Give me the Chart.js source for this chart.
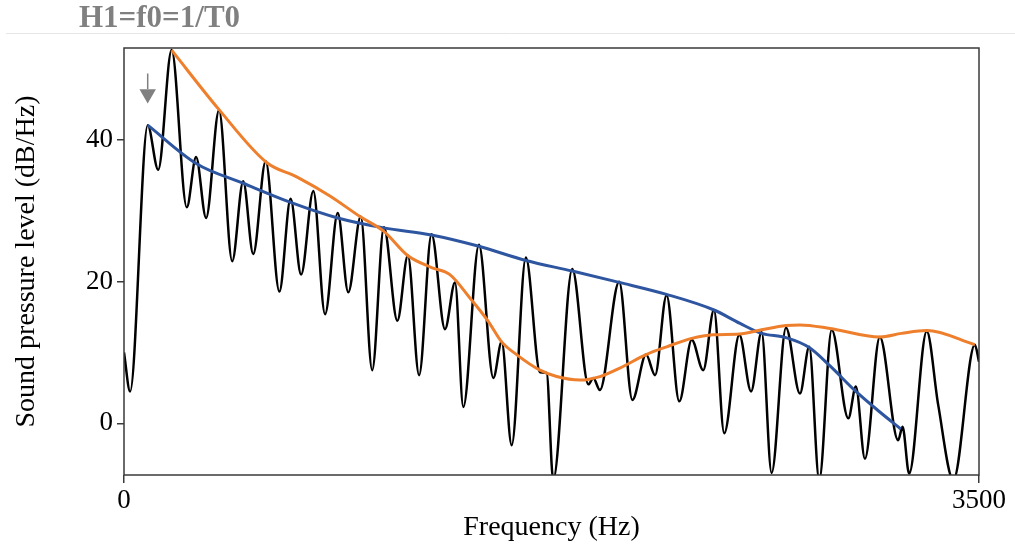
<!DOCTYPE html>
<html><head><meta charset="utf-8">
<script src="https://cdn.jsdelivr.net/npm/chart.js@4.4.1/dist/chart.umd.min.js"></script>
<style>html,body{margin:0;padding:0;background:#fff;}#wrap{width:1015px;height:554px;position:relative}</style>
</head><body><div id="wrap"><canvas id="c" width="1015" height="554"></canvas></div>
<script>
const titleText = 'H1=f0=1/T0';
const xTitle = 'Frequency (Hz)';
const yTitle = 'Sound pressure level (dB/Hz)';
const xTickValues = [0, 3500];
const yTickValues = [0, 20, 40];

const spectrumHz = [0,25,97,140,195,257,295,336,389,443,488,529,580,636,682,725,775,823,875,918,969,1016,1064,1119,1162,1208,1259,1314,1355,1389,1453,1512,1546,1587,1645,1703,1730,1757,1835,1901,1921,1948,2027,2081,2137,2174,2221,2273,2324,2371,2415,2457,2519,2567,2610,2651,2710,2767,2805,2846,2897,2965,2996,3033,3094,3169,3187,3214,3286,3333,3395,3483,3500];
const spectrumDb = [10.0,4.5,42.1,35.8,52.7,30.5,37.6,29.0,44.2,22.9,34.2,23.9,37.0,18.6,31.7,21.0,32.8,15.4,29.7,18.5,29.2,7.5,27.7,14.5,23.7,6.8,26.7,13.3,19.9,2.3,25.2,6.4,11.5,-3.1,23.4,7.2,7.1,-8.0,21.8,5.5,6.4,4.7,20.0,3.3,9.7,6.8,18.1,3.1,11.8,7.5,16.0,-1.4,12.5,4.5,12.9,-7.0,13.5,4.2,10.8,-8.0,13.2,0.7,5.2,-5.0,12.2,-2.4,-0.5,-7.1,13.0,2.6,-8.0,11.1,8.7];

const harmonicHz = [97,295,488,682,875,1064,1259,1453,1645,1835,2027,2221,2415,2522,2610,2710,2805,2890,2996,3094,3180];
const harmonicDb = [42.1,36.7,33.9,31.2,29.0,27.6,26.6,25.0,23.0,21.5,19.9,18.2,16.0,14.1,12.7,12.1,10.7,8.1,4.5,1.6,-0.8];

const envelopeHz = [195,389,585,707,843,966,1064,1161,1259,1334,1416,1491,1546,1607,1703,1771,1866,1948,2030,2137,2221,2324,2412,2519,2610,2710,2767,2890,3094,3183,3286,3483];
const envelopeDb = [52.7,44.3,36.8,34.8,32.1,29.2,27.1,23.7,22.0,21.0,17.7,14.4,11.5,9.7,7.5,6.6,6.1,6.6,7.8,9.7,10.8,12.0,12.5,12.6,13.2,13.8,13.9,13.4,12.2,12.7,13.1,11.1];

const arrowHz = 97;
const arrowStemDb = [49.4, 47.2];
const arrowHeadDb = 46.5;

const pts = (xs, ys) => xs.map((x, i) => ({x: x, y: ys[i]}));
const serif = "'Liberation Serif', 'Times New Roman', serif";

const framePlugin = {
  id: 'frame',
  afterDatasetsDraw(chart) {
    const {ctx, chartArea: a} = chart;
    ctx.save();
    ctx.strokeStyle = '#3a3a3a';
    ctx.lineWidth = 1.5;
    ctx.strokeRect(a.left, a.top, a.right - a.left, a.bottom - a.top);
    ctx.restore();
  },
  afterDraw(chart) {
    const {ctx} = chart;
    ctx.save();
    ctx.fillStyle = '#808080';
    ctx.font = "bold 31px " + serif;
    ctx.textBaseline = 'alphabetic';
    ctx.textAlign = 'left';
    ctx.fillText(titleText, 79, 27);
    ctx.strokeStyle = '#e6e6e6';
    ctx.lineWidth = 1;
    ctx.beginPath();
    ctx.moveTo(6, 33.5);
    ctx.lineTo(1015, 33.5);
    ctx.stroke();
    ctx.restore();
  }
};

new Chart(document.getElementById('c'), {
  type: 'line',
  data: {
    datasets: [
      {label: 'spectrum', data: pts(spectrumHz, spectrumDb), borderColor: '#000', borderWidth: 2.5, pointRadius: 0, cubicInterpolationMode: 'monotone', order: 3, clip: 0},
      {label: 'harmonics', data: pts(harmonicHz, harmonicDb), borderColor: '#2E559F', borderWidth: 3, pointRadius: 0, cubicInterpolationMode: 'monotone', order: 2, clip: 0},
      {label: 'envelope', data: pts(envelopeHz, envelopeDb), borderColor: '#EE7F2D', borderWidth: 3, pointRadius: 0, cubicInterpolationMode: 'monotone', order: 1, clip: 0},
      {label: 'arrowStem', data: pts([arrowHz, arrowHz], arrowStemDb), borderColor: '#808080', borderWidth: 1.5, pointRadius: 0, order: 0},
      {label: 'arrowHead', data: pts([arrowHz], [arrowHeadDb]), showLine: false, pointStyle: 'triangle', rotation: 180, pointRadius: 9.5, pointBackgroundColor: '#808080', pointBorderColor: '#808080', pointBorderWidth: 0, order: 0}
    ]
  },
  options: {
    responsive: false,
    devicePixelRatio: 1,
    animation: false,
    events: [],
    layout: {padding: {top: 48, right: 36, left: 0, bottom: 0}},
    plugins: {legend: {display: false}, tooltip: {enabled: false}, title: {display: false}},
    scales: {
      x: {
        type: 'linear', min: 0, max: 3500,
        afterBuildTicks: s => { s.ticks = xTickValues.map(v => ({value: v})); },
        afterFit: s => { s.height = 79; },
        grid: {display: true, drawOnChartArea: false, drawTicks: true, tickLength: 8, color: '#3a3a3a', lineWidth: 1.5},
        border: {display: false},
        ticks: {color: '#000', font: {family: serif, size: 27}, padding: 2, maxRotation: 0, autoSkip: false, callback: v => String(v)},
        title: {display: true, text: xTitle, color: '#000', font: {family: serif, size: 28}, padding: {top: 0, bottom: 10}}
      },
      y: {
        type: 'linear', min: -7.3, max: 53,
        afterBuildTicks: s => { s.ticks = yTickValues.map(v => ({value: v})); },
        afterFit: s => { s.width = 124; },
        grid: {display: true, drawOnChartArea: false, drawTicks: true, tickLength: 7, color: '#3a3a3a', lineWidth: 1.5},
        border: {display: false},
        ticks: {color: '#000', font: {family: serif, size: 27}, padding: 4, callback: v => String(v)},
        title: {display: true, text: yTitle, color: '#000', font: {family: serif, size: 28}, padding: {top: 10, bottom: 0}}
      }
    }
  },
  plugins: [framePlugin]
});
</script>
</body></html>
